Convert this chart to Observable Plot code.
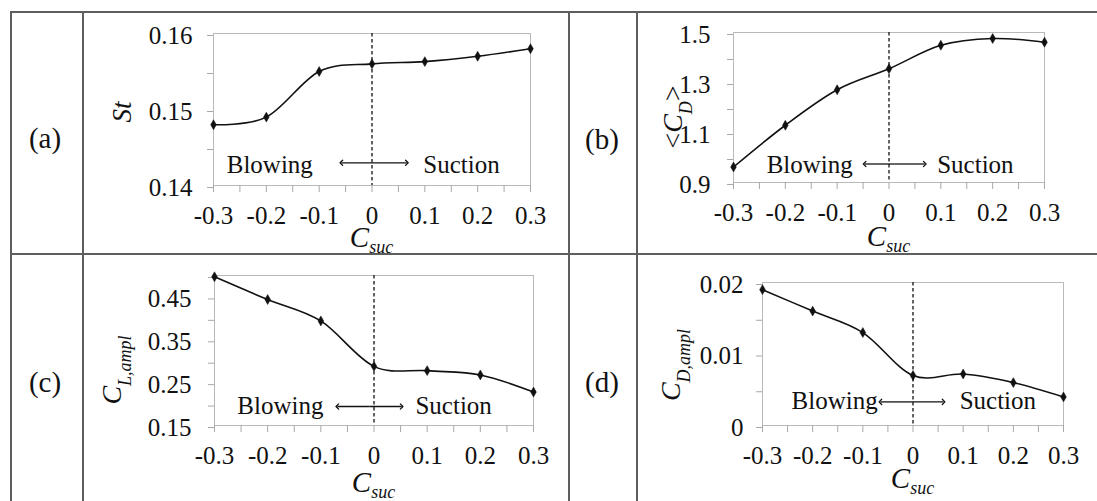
<!DOCTYPE html>
<html>
<head>
<meta charset="utf-8">
<script src="https://cdn.jsdelivr.net/npm/d3@7"></script>
<script src="https://cdn.jsdelivr.net/npm/@observablehq/plot@0.6"></script>
<style>
  body { margin: 0; background: #fff; width: 1097px; height: 501px; overflow: hidden; position: relative; font-family: "Liberation Serif", "Times New Roman", serif; }
  .hl, .vl { position: absolute; background: #5e5e5e; }
  .hl { height: 2px; left: 10px; right: 0; }
  .vl { width: 2px; top: 11px; bottom: 0; }
  .tag { position: absolute; font-size: 29px; line-height: 1; transform: translate(-50%, -50%); color: #111; }
  .panel { position: absolute; }
  .panel svg { overflow: visible; }
</style>
</head>
<body>
<!-- table grid -->
<div class="hl" style="top:11px"></div>
<div class="hl" style="top:253px"></div>
<div class="vl" style="left:10px"></div>
<div class="vl" style="left:82px"></div>
<div class="vl" style="left:568px"></div>
<div class="vl" style="left:636px"></div>
<div class="tag" style="left:45px;top:138px">(a)</div>
<div class="tag" style="left:602px;top:139px">(b)</div>
<div class="tag" style="left:45px;top:382px">(c)</div>
<div class="tag" style="left:602px;top:382px">(d)</div>
<div id="pa" class="panel"></div>
<div id="pb" class="panel"></div>
<div id="pc" class="panel"></div>
<div id="pd" class="panel"></div>
<script>
// Suction coefficient (negative = blowing)
const cSuc = [-0.3, -0.2, -0.1, 0, 0.1, 0.2, 0.3];

// Series values
const strouhal = [0.148, 0.149, 0.155, 0.156, 0.1563, 0.157, 0.158];
const meanDrag = [0.962, 1.129, 1.271, 1.355, 1.449, 1.476, 1.461];
const liftAmpl = [0.497, 0.444, 0.394, 0.288, 0.278, 0.268, 0.228];
const dragAmpl = [0.019, 0.016, 0.013, 0.007, 0.0072, 0.006, 0.004];

// Axis ticks and their labels
const xMajor = [-0.3, -0.2, -0.1, 0, 0.1, 0.2, 0.3];
const xMajorLabels = ["-0.3", "-0.2", "-0.1", "0", "0.1", "0.2", "0.3"];
const stMajor = [0.14, 0.15, 0.16];
const stLabels = ["0.14", "0.15", "0.16"];
const cdMajor = [0.9, 1.1, 1.3, 1.5];
const cdLabels = ["0.9", "1.1", "1.3", "1.5"];
const clMajor = [0.15, 0.25, 0.35, 0.45];
const clLabels = ["0.15", "0.25", "0.35", "0.45"];
const cdaMajor = [0, 0.01, 0.02];
const cdaLabels = ["0", "0.01", "0.02"];

const ink = "#111";

// ticks every `step` across the domain; labelled only where a major value sits
function tickSet(domain, step) {
  const n = Math.round((domain[1] - domain[0]) / step);
  return d3.range(n + 1).map(i => +(domain[0] + i * step).toFixed(6));
}
function labeller(major, labels) {
  return d => {
    const i = major.findIndex(m => Math.abs(m - d) < 1e-9);
    return i < 0 ? "" : labels[i];
  };
}

// rotated / horizontal titles made of plain and subscript runs
function titleMark(parts, x, y, rotate, size, subSize, subShift) {
  return () => {
    const t = d3.create("svg:text")
      .attr("transform", `translate(${x},${y})${rotate ? " rotate(-90)" : ""}`)
      .attr("text-anchor", "middle")
      .attr("fill", ink)
      .attr("font-size", size);
    let shifted = false;
    for (const p of parts) {
      const s = t.append("tspan").text(p.t);
      if (p.i) s.attr("font-style", "italic");
      if (p.sub && !shifted) { s.attr("dy", subShift).attr("font-size", subSize); shifted = true; }
      else if (p.sub) s.attr("font-size", subSize);
      else if (shifted) { s.attr("dy", -subShift); shifted = false; }
    }
    return t.node();
  };
}

function panel(cfg) {
  const {el, box, frame, y, yDomain, yStep, yMajor, yLabels, yPad, note, xTitleY, yTitle} = cfg;
  const data = cSuc.map((c, i) => ({c, v: y[i]}));
  const ml = frame.l - box.left, mt = frame.t - box.top;
  const mr = box.left + box.width - frame.r, mb = box.top + box.height - frame.b;
  const cx = (frame.l + frame.r) / 2 - box.left;
  // double-headed arrow drawn as two heads pointing away from its middle
  const mid = (note.a1 + note.a2) / 2;
  const arrows = [{from: mid, to: note.a1}, {from: mid, to: note.a2}];
  const chart = Plot.plot({
    width: box.width,
    height: box.height,
    marginLeft: ml, marginRight: mr, marginTop: mt, marginBottom: mb,
    x: {domain: [-0.3, 0.3]},
    y: {domain: yDomain},
    style: {fontFamily: '"Liberation Serif", "Times New Roman", serif', fontSize: "25px", background: "transparent", color: ink},
    marks: [
      Plot.frame({stroke: "#b9b9b9"}),
      Plot.axisX({ticks: tickSet([-0.3, 0.3], 0.05), tickFormat: labeller(xMajor, xMajorLabels), tickSize: 7, tickPadding: 14, stroke: "#a8a8a8", fill: ink, label: null}),
      Plot.axisY({ticks: tickSet(yDomain, yStep), tickFormat: labeller(yMajor, yLabels), tickSize: 6, tickPadding: yPad, dy: 2, stroke: "#a8a8a8", fill: ink, label: null}),
      Plot.ruleX([0], {stroke: ink, strokeWidth: 1.3, strokeDasharray: "3.5,2.5"}),
      Plot.line(data, {x: "c", y: "v", curve: "cardinal", stroke: ink, strokeWidth: 1.6}),
      Plot.dot(data, {x: "c", y: "v", symbol: "diamond", r: 3, fill: ink, stroke: ink, strokeWidth: 0.5}),
      Plot.text(["Blowing"], {x: note.blow, y: note.textY, textAnchor: "start", lineAnchor: "bottom", fill: ink}),
      Plot.text(["Suction"], {x: note.suct, y: note.textY, textAnchor: "start", lineAnchor: "bottom", fill: ink}),
      Plot.link(arrows, {x1: "from", x2: "to", y1: note.arrowY, y2: note.arrowY, stroke: ink, strokeWidth: 1.3, markerEnd: "arrow"}),
      titleMark([{t: "C", i: true}, {t: "suc", i: true, sub: true}], cx, xTitleY - box.top, false, 29, 18, 6),
      titleMark(yTitle.parts, yTitle.x - box.left, yTitle.y - box.top, true, yTitle.size, 18, 10)
    ]
  });
  const host = document.getElementById(el);
  host.style.left = box.left + "px";
  host.style.top = box.top + "px";
  host.appendChild(chart);
}

panel({
  el: "pa",
  box: {left: 86, top: 14, width: 480, height: 250},
  frame: {l: 213, r: 530, t: 33, b: 185},
  y: strouhal, yDomain: [0.14, 0.16], yStep: 0.005, yMajor: stMajor, yLabels: stLabels, yPad: 15,
  note: {blow: -0.275, suct: 0.097, textY: 0.1416, a1: -0.058, a2: 0.066, arrowY: 0.14299},
  xTitleY: 247,
  yTitle: {parts: [{t: "St", i: true}], x: 131, y: 112, size: 27}
});

panel({
  el: "pb",
  box: {left: 640, top: 14, width: 450, height: 250},
  frame: {l: 733, r: 1044, t: 32, b: 182},
  y: meanDrag, yDomain: [0.9, 1.5], yStep: 0.1, yMajor: cdMajor, yLabels: cdLabels, yPad: 17,
  note: {blow: -0.236, suct: 0.093, textY: 0.938, a1: -0.047, a2: 0.069, arrowY: 0.974},
  xTitleY: 246,
  yTitle: {parts: [{t: "<"}, {t: "C", i: true}, {t: "D", i: true, sub: true}, {t: ">"}], x: 682, y: 117, size: 28}
});

panel({
  el: "pc",
  box: {left: 86, top: 256, width: 480, height: 245},
  frame: {l: 214, r: 533, t: 275, b: 425},
  y: liftAmpl, yDomain: [0.15, 0.5], yStep: 0.05, yMajor: clMajor, yLabels: clLabels, yPad: 17,
  note: {blow: -0.257, suct: 0.078, textY: 0.1757, a1: -0.069, a2: 0.052, arrowY: 0.1943},
  xTitleY: 492,
  yTitle: {parts: [{t: "C", i: true}, {t: "L,ampl", i: true, sub: true}], x: 121, y: 370, size: 28}
});

panel({
  el: "pd",
  box: {left: 640, top: 256, width: 455, height: 245},
  frame: {l: 762, r: 1063, t: 282, b: 425},
  y: dragAmpl, yDomain: [0, 0.02], yStep: 0.005, yMajor: cdaMajor, yLabels: cdaLabels, yPad: 13,
  note: {blow: -0.242, suct: 0.093, textY: 0.00224, a1: -0.065, a2: 0.061, arrowY: 0.0033},
  xTitleY: 488,
  yTitle: {parts: [{t: "C", i: true}, {t: "D,ampl", i: true, sub: true}], x: 680, y: 365, size: 28}
});
</script>
</body>
</html>
